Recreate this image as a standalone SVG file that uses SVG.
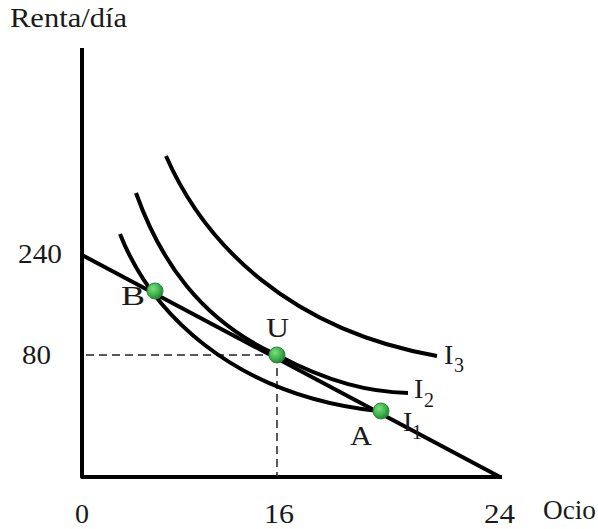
<svg xmlns="http://www.w3.org/2000/svg" width="598" height="529" viewBox="0 0 598 529">
<style>
.t{font-family:"Liberation Serif","Times New Roman",serif;fill:#1a1a1a;font-size:28px}
.s{font-family:"Liberation Serif","Times New Roman",serif;fill:#1a1a1a;font-size:20px}
.ax{stroke:#000;stroke-width:4;fill:none;stroke-linecap:square;stroke-linejoin:round}
.cv{stroke:#000;stroke-width:4;fill:none;stroke-linecap:butt}
.ds{stroke:#222;stroke-width:1.5;fill:none;stroke-dasharray:8 5}
.pt{fill:url(#g);stroke:#2a8a3a;stroke-width:1}
</style>
<defs>
<radialGradient id="g" cx="0.38" cy="0.35" r="0.7">
<stop offset="0" stop-color="#7ee07e"/>
<stop offset="0.6" stop-color="#3cb04a"/>
<stop offset="1" stop-color="#1f7f33"/>
</radialGradient>
</defs>
<rect width="598" height="529" fill="#fff"/>
<g id="axes">
<path class="ax" d="M82,50 L82,477 L500,477"/>
<text class="t" x="10" y="27" textLength="117" lengthAdjust="spacingAndGlyphs">Renta/día</text>
<text class="t" x="18" y="263" textLength="44" lengthAdjust="spacingAndGlyphs">240</text>
<text class="t" x="22" y="364" textLength="29" lengthAdjust="spacingAndGlyphs">80</text>
<text class="t" x="75" y="523" textLength="14" lengthAdjust="spacingAndGlyphs">0</text>
<text class="t" x="264" y="523" textLength="30" lengthAdjust="spacingAndGlyphs">16</text>
<text class="t" x="484" y="523" textLength="31" lengthAdjust="spacingAndGlyphs">24</text>
<text class="t" x="543" y="519" font-size="24" textLength="53" lengthAdjust="spacingAndGlyphs">Ocio</text>
</g>
<g id="connectors">
<path id="budget" class="cv" d="M82,255 L500,477"/>
<path class="ds" d="M86,355 L277,355"/>
<path class="ds" d="M277,355 L277,477"/>
</g>
<g id="I1">
<path class="cv" d="M120,234 C150,310 230,395 378,411"/>
<text class="t" x="403" y="431">I</text><text class="s" x="412" y="439">1</text>
</g>
<g id="I2">
<path class="cv" d="M136,193 C160,260 200,320 277,355 C330,383 370,392 408,393"/>
<text class="t" x="414" y="398">I</text><text class="s" x="424" y="407">2</text>
</g>
<g id="I3">
<path class="cv" d="M166,156 C205,245 290,330 437,356"/>
<text class="t" x="444" y="364">I</text><text class="s" x="454" y="372">3</text>
</g>
<g id="B">
<circle class="pt" cx="155" cy="291" r="8"/>
<text class="t" x="121" y="305" textLength="24" lengthAdjust="spacingAndGlyphs">B</text>
</g>
<g id="U">
<circle class="pt" cx="277" cy="355" r="8"/>
<text class="t" x="266" y="337" textLength="23" lengthAdjust="spacingAndGlyphs">U</text>
</g>
<g id="A">
<circle class="pt" cx="381" cy="411" r="8"/>
<text class="t" x="350" y="445" textLength="22" lengthAdjust="spacingAndGlyphs">A</text>
</g>
</svg>
